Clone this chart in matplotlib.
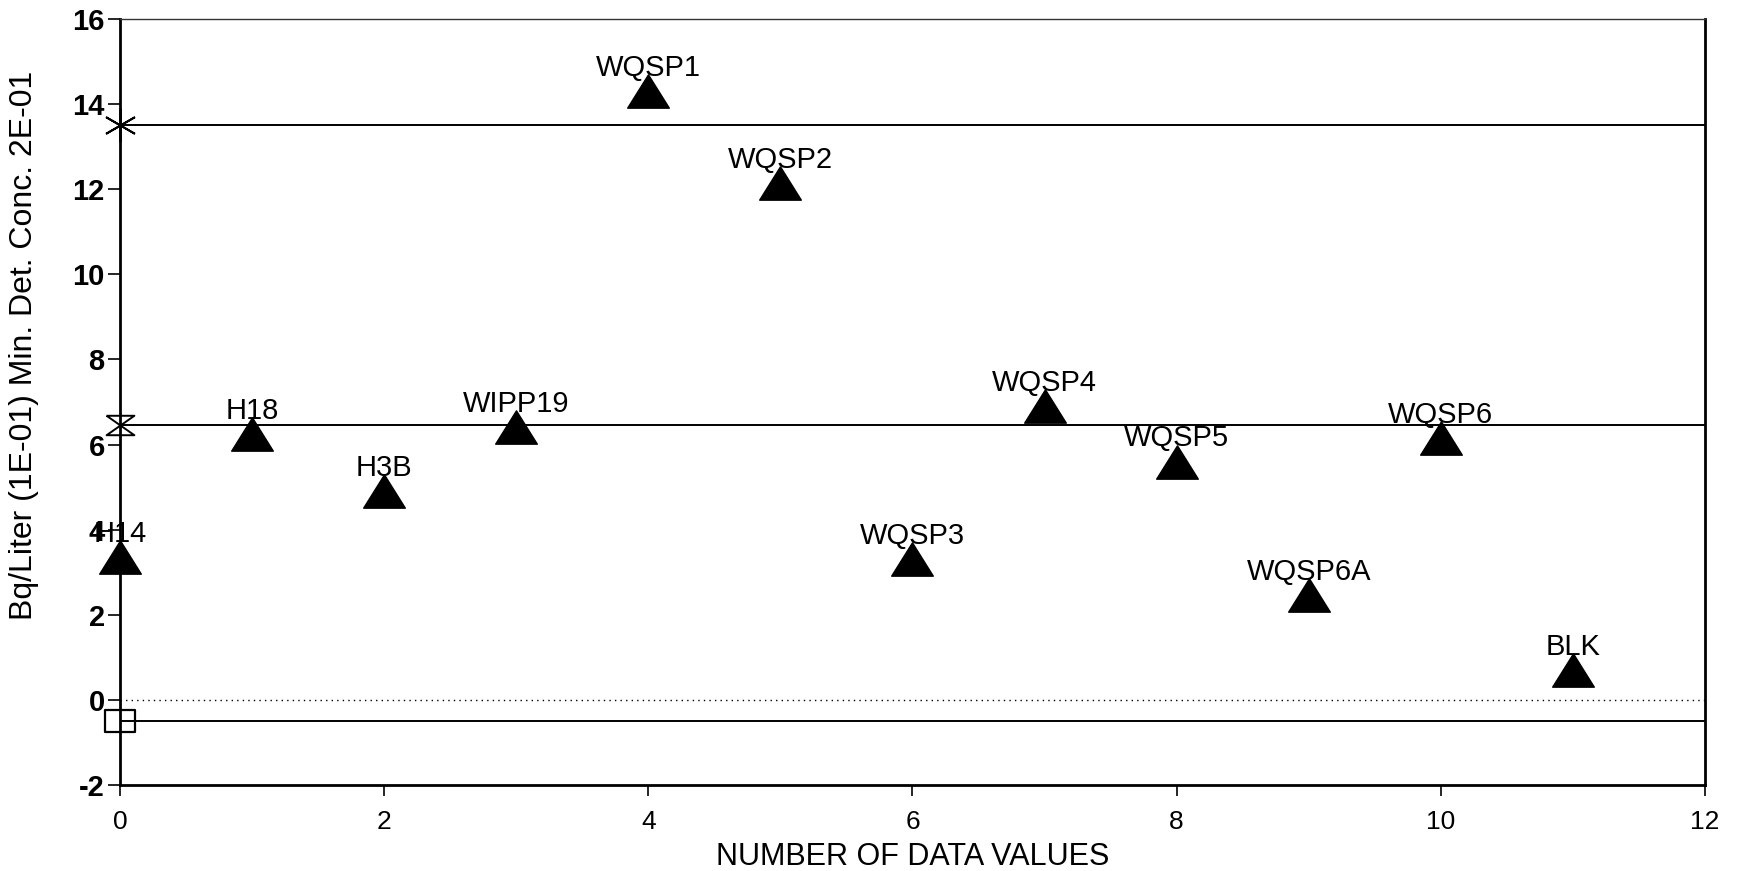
import numpy as np
import matplotlib.pyplot as plt
from matplotlib.path import Path

plt.rcParams['font.family'] = ['Liberation Sans', 'DejaVu Sans']
plt.rcParams['axes.unicode_minus'] = False

# wells / samples
labels = ['H14', 'H18', 'H3B', 'WIPP19', 'WQSP1', 'WQSP2', 'WQSP3',
          'WQSP4', 'WQSP5', 'WQSP6A', 'WQSP6', 'BLK']
xvals = [0, 1, 2, 3, 4, 5, 6, 7, 8, 9, 10, 11]
yvals = [3.35, 6.25, 4.9, 6.4, 14.3, 12.15, 3.3, 6.9, 5.6, 2.45, 6.15, 0.7]

# reference lines (upper, mean, lower)
upper_line = 13.5
mean_line = 6.47
lower_line = -0.5
zero_line = 0.0

xticks = [0, 2, 4, 6, 8, 10, 12]
yticks = [-2, 0, 2, 4, 6, 8, 10, 12, 14, 16]

# custom markers
tri = Path([(-1, -0.8), (1, -0.8), (0, 0.8), (-1, -0.8)],
           [Path.MOVETO, Path.LINETO, Path.LINETO, Path.CLOSEPOLY])
hourglass = Path([(-1, 0.7), (1, 0.7), (-1, -0.7), (1, -0.7), (-1, 0.7)],
                 [Path.MOVETO, Path.LINETO, Path.LINETO, Path.LINETO, Path.LINETO])
rect = Path([(-1, -0.72), (1, -0.72), (1, 0.72), (-1, 0.72), (-1, -0.72)],
            [Path.MOVETO, Path.LINETO, Path.LINETO, Path.LINETO, Path.CLOSEPOLY])

fig = plt.figure(figsize=(17.38, 8.71), dpi=100)
ax = fig.add_axes([0.069, 0.099, 0.912, 0.879])

ax.axhline(upper_line, color='black', lw=1.4, zorder=1)
ax.axhline(mean_line, color='black', lw=1.4, zorder=1)
ax.axhline(lower_line, color='black', lw=1.4, zorder=1)
ax.axhline(zero_line, color='black', lw=1.0, ls=(0, (1, 3)), zorder=1)

ax.plot([0], [upper_line], marker=(6, 2, 0), ms=24, mec='black', mew=1.4,
        ls='none', clip_on=False, zorder=3)
ax.plot([0], [mean_line], marker=hourglass, ms=20, mfc='none', mec='black',
        mew=1.4, ls='none', clip_on=False, zorder=3)
ax.plot([0], [lower_line], marker=rect, ms=22, mfc='none', mec='black',
        mew=1.6, ls='none', clip_on=False, zorder=3)

ax.plot(xvals, yvals, marker=tri, ms=30, color='black', ls='none',
        clip_on=False, zorder=4)
for x, y, s in zip(xvals, yvals, labels):
    ax.annotate(s, (x, y), xytext=(0, 11), textcoords='offset points',
                ha='center', va='baseline', fontsize=21, zorder=5)

ax.set_xlim(0, 12)
ax.set_ylim(-2, 16)
ax.set_xticks(xticks)
ax.set_yticks(yticks)
ax.tick_params(axis='x', direction='out', length=8, width=1.2, labelsize=19, pad=10)
ax.tick_params(axis='y', direction='out', length=9, width=1.2, labelsize=21, pad=2)
for lab in ax.get_yticklabels():
    lab.set_fontweight('bold')

for side in ['left', 'bottom', 'right']:
    ax.spines[side].set_linewidth(2.0)
ax.spines['top'].set_linewidth(1.0)
ax.spines['top'].set_color('#333333')

ax.set_xlabel('NUMBER OF DATA VALUES', fontsize=22, labelpad=6)
ax.set_ylabel('Bq/Liter (1E-01) Min. Det. Conc. 2E-01', fontsize=23)
ax.yaxis.set_label_coords(-0.051, 0.574)

fig.savefig('out.png', dpi=100)
